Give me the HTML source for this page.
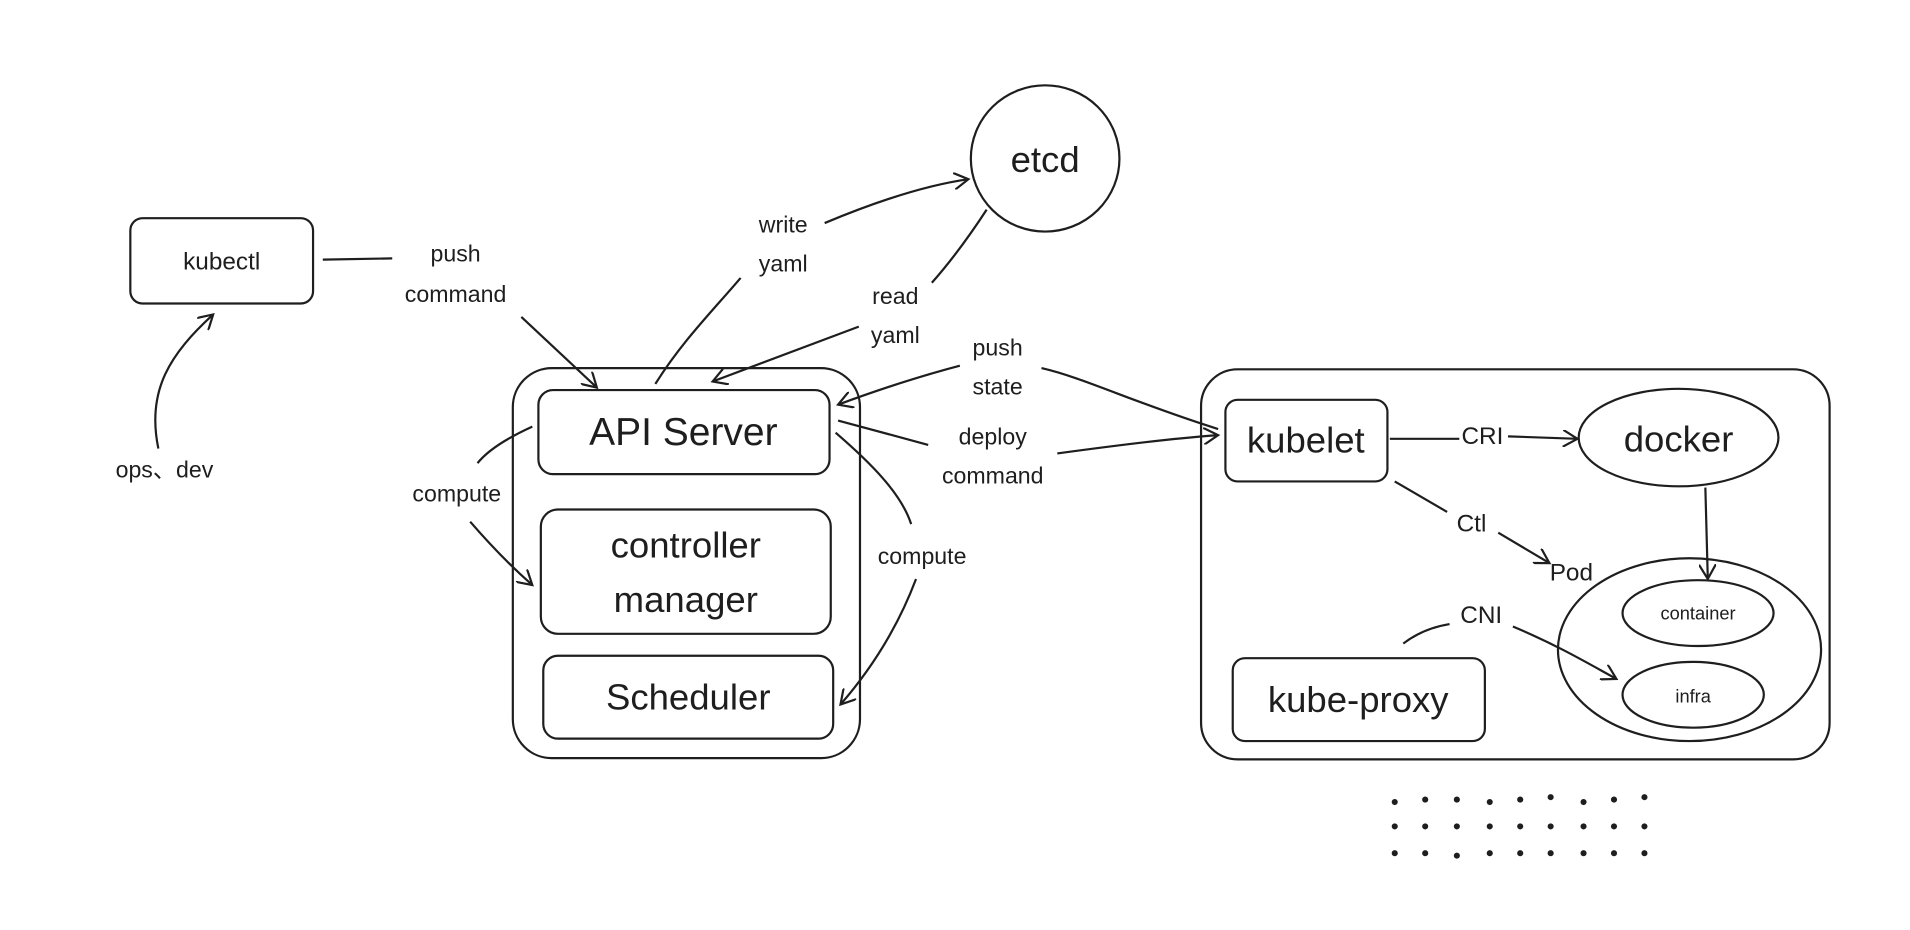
<!DOCTYPE html>
<html><head><meta charset="utf-8"><style>
html,body{margin:0;padding:0;background:#fff;}
svg{display:block;}
text{font-family:"Liberation Sans Narrow","Liberation Sans",sans-serif;fill:#1e1e1e;text-anchor:middle;dominant-baseline:central;}
</style></head><body>
<svg width="1910" height="930" viewBox="0 0 1568 763" preserveAspectRatio="none" xmlns="http://www.w3.org/2000/svg">
<defs><marker id="a" markerWidth="14" markerHeight="14" refX="12" refY="7" orient="auto" markerUnits="userSpaceOnUse"><path d="M0,0 L12,7 L0,14" fill="none" stroke="#1e1e1e" stroke-width="1.8"/></marker></defs>
<g fill="none" stroke="#1e1e1e" stroke-width="1.8">
<rect x="107" y="179" width="150" height="70" rx="10"/>
<rect x="421" y="302" width="285" height="320" rx="32"/>
<rect x="442" y="320" width="239" height="69" rx="12"/>
<rect x="444" y="418" width="238" height="102" rx="14"/>
<rect x="446" y="538" width="238" height="68" rx="12"/>
<ellipse cx="858" cy="130" rx="61" ry="60"/>
<rect x="986" y="303" width="516" height="320" rx="30"/>
<rect x="1006" y="328" width="133" height="67" rx="10"/>
<ellipse cx="1378" cy="359" rx="82" ry="40"/>
<ellipse cx="1387" cy="533" rx="108" ry="75"/>
<ellipse cx="1394" cy="503" rx="62" ry="27"/>
<ellipse cx="1390" cy="570" rx="58" ry="27"/>
<rect x="1012" y="540" width="207" height="68" rx="10"/>
<path d="M130,368 C120,320 140,290 175,258" marker-end="url(#a)"/>
<path d="M265,213 L322,212"/>
<path d="M428,260 L490,318" marker-end="url(#a)"/>
<path d="M538,315 C560,280 585,255 608,228"/>
<path d="M677,183 C720,165 760,152 795,147" marker-end="url(#a)"/>
<path d="M810,172 C795,195 780,215 765,232"/>
<path d="M705,268 C660,285 620,300 585,313" marker-end="url(#a)"/>
<path d="M1000,352 C930,330 890,310 855,302"/>
<path d="M788,300 C750,310 715,322 688,332" marker-end="url(#a)"/>
<path d="M688,345 L762,365"/>
<path d="M868,372 C920,365 960,360 1000,357" marker-end="url(#a)"/>
<path d="M437,350 C415,360 400,370 392,380"/>
<path d="M386,428 C405,450 420,465 437,480" marker-end="url(#a)"/>
<path d="M686,355 C715,380 740,405 748,430"/>
<path d="M752,475 C735,520 710,555 690,578" marker-end="url(#a)"/>
<path d="M1141,360 L1198,360"/>
<path d="M1238,358 L1295,360" marker-end="url(#a)"/>
<path d="M1400,400 L1402,475" marker-end="url(#a)"/>
<path d="M1145,395 L1188,420"/>
<path d="M1230,437 L1272,462" marker-end="url(#a)"/>
<path d="M1152,528 C1165,518 1178,514 1190,512"/>
<path d="M1242,514 C1280,530 1305,545 1327,557" marker-end="url(#a)"/>
</g>
<g fill="#1e1e1e">
<circle cx="1145" cy="658" r="2.5"/><circle cx="1170" cy="656" r="2.5"/><circle cx="1196" cy="656" r="2.5"/><circle cx="1223" cy="658" r="2.5"/><circle cx="1248" cy="656" r="2.5"/><circle cx="1273" cy="654" r="2.5"/><circle cx="1300" cy="658" r="2.5"/><circle cx="1325" cy="656" r="2.5"/><circle cx="1350" cy="654" r="2.5"/>
<circle cx="1145" cy="678" r="2.5"/><circle cx="1170" cy="678" r="2.5"/><circle cx="1196" cy="678" r="2.5"/><circle cx="1223" cy="678" r="2.5"/><circle cx="1248" cy="678" r="2.5"/><circle cx="1273" cy="678" r="2.5"/><circle cx="1300" cy="678" r="2.5"/><circle cx="1325" cy="678" r="2.5"/><circle cx="1350" cy="678" r="2.5"/>
<circle cx="1145" cy="700" r="2.5"/><circle cx="1170" cy="700" r="2.5"/><circle cx="1196" cy="702" r="2.5"/><circle cx="1223" cy="700" r="2.5"/><circle cx="1248" cy="700" r="2.5"/><circle cx="1273" cy="700" r="2.5"/><circle cx="1300" cy="700" r="2.5"/><circle cx="1325" cy="700" r="2.5"/><circle cx="1350" cy="700" r="2.5"/>
</g>
<text x="182" y="215" font-size="20">kubectl</text>
<text x="135" y="385" font-size="19">ops、dev</text>
<text x="374" y="208" font-size="19">push</text>
<text x="374" y="241" font-size="19">command</text>
<text x="561" y="355" font-size="32">API Server</text>
<text x="563" y="447" font-size="30">controller</text>
<text x="563" y="492" font-size="30">manager</text>
<text x="565" y="572" font-size="30">Scheduler</text>
<text x="858" y="131" font-size="30">etcd</text>
<text x="643" y="184" font-size="19">write</text>
<text x="643" y="216" font-size="19">yaml</text>
<text x="735" y="243" font-size="19">read</text>
<text x="735" y="275" font-size="19">yaml</text>
<text x="819" y="285" font-size="19">push</text>
<text x="819" y="317" font-size="19">state</text>
<text x="815" y="358" font-size="19">deploy</text>
<text x="815" y="390" font-size="19">command</text>
<text x="375" y="405" font-size="19">compute</text>
<text x="757" y="456" font-size="19">compute</text>
<text x="1072" y="361" font-size="30">kubelet</text>
<text x="1217" y="358" font-size="20">CRI</text>
<text x="1378" y="360" font-size="30">docker</text>
<text x="1208" y="430" font-size="20">Ctl</text>
<text x="1290" y="470" font-size="20">Pod</text>
<text x="1216" y="505" font-size="20">CNI</text>
<text x="1394" y="503" font-size="15">container</text>
<text x="1390" y="571" font-size="15">infra</text>
<text x="1115" y="574" font-size="30">kube-proxy</text>
</svg>
</body></html>
